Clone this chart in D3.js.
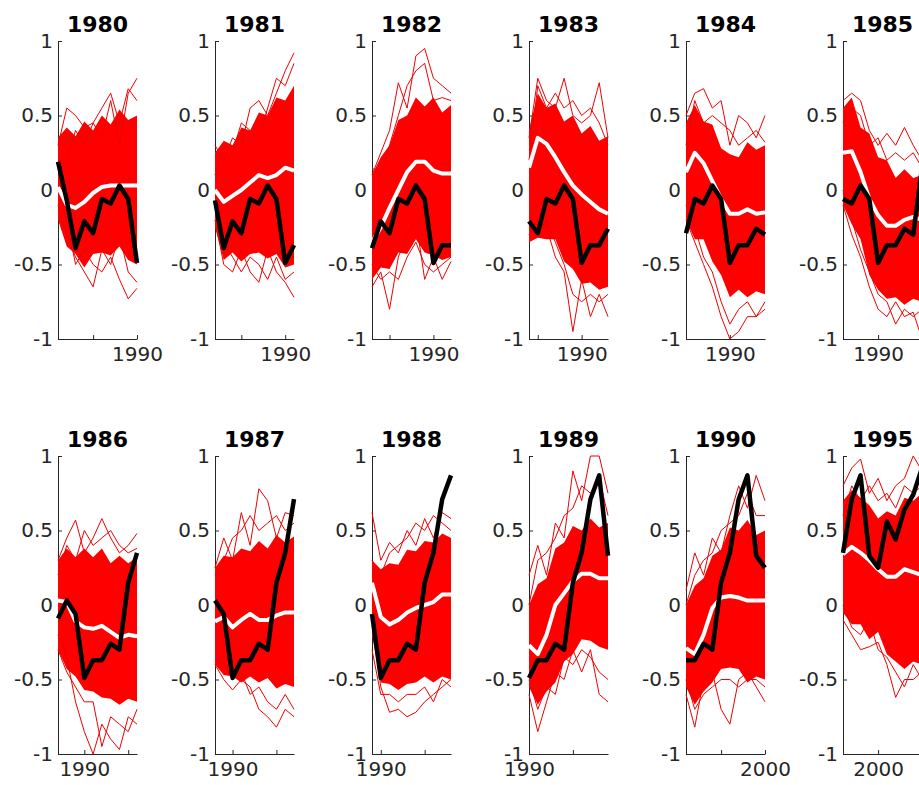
<!doctype html>
<html>
<head>
<meta charset="utf-8">
<script src="https://d3js.org/d3.v7.min.js"></script>
<style>
    body { margin: 0; background: #fff; }
    svg { display: block; font-family: "DejaVu Sans", sans-serif; }
</style>
</head>
<body>
<svg id="chart" width="919" height="785"></svg>
<script>
    // start year of each hindcast panel (panel covers start+1 .. start+10)
    const startYears = [1980, 1981, 1982, 1983, 1984, 1985, 1986, 1987, 1988, 1989, 1990, 1995];

    // observed series (black)
    const obsYears = [1981, 1982, 1983, 1984, 1985, 1986, 1987, 1988, 1989, 1990, 1991, 1992, 1993,
                      1994, 1995, 1996, 1997, 1998, 1999, 2000, 2001, 2002, 2003, 2004, 2005];
    const obsValues = [0.19, -0.07, -0.39, -0.21, -0.29, -0.06, -0.09, 0.03, -0.06, -0.49, -0.37, -0.37, -0.26,
                       -0.30, 0.15, 0.35, 0.71, 0.87, 0.33, 0.25, 0.56, 0.44, 0.64, 0.74, 0.92];

    // ensemble mean (white), one row per panel
    const ensMean = [
        [0.02, -0.10, -0.12, -0.08, -0.02, 0.02, 0.03, 0.03, 0.03, 0.03],
        [0.00, -0.08, -0.04, 0.00, 0.05, 0.10, 0.08, 0.10, 0.15, 0.13],
        [-0.35, -0.25, -0.12, 0.00, 0.12, 0.19, 0.19, 0.13, 0.11, 0.11],
        [0.15, 0.35, 0.31, 0.22, 0.12, 0.03, -0.03, -0.08, -0.13, -0.16],
        [0.12, 0.25, 0.18, 0.06, -0.06, -0.16, -0.16, -0.13, -0.16, -0.15],
        [0.25, 0.26, 0.12, -0.06, -0.17, -0.24, -0.24, -0.20, -0.18, -0.20],
        [0.03, 0.02, -0.11, -0.15, -0.16, -0.14, -0.18, -0.22, -0.20, -0.21],
        [-0.11, -0.08, -0.15, -0.10, -0.06, -0.10, -0.10, -0.07, -0.05, -0.05],
        [0.15, -0.08, -0.13, -0.10, -0.05, -0.02, 0.00, 0.02, 0.07, 0.07],
        [-0.27, -0.33, -0.20, 0.00, 0.08, 0.16, 0.21, 0.21, 0.18, 0.18],
        [-0.29, -0.33, -0.20, -0.02, 0.05, 0.06, 0.05, 0.03, 0.03, 0.03],
        [0.34, 0.39, 0.35, 0.30, 0.24, 0.19, 0.19, 0.24, 0.22, 0.20]
    ];

    // dense part of the ensemble spread (red band), ragged edges as seen
    const coreHi = [
        [0.35, 0.42, 0.36, 0.46, 0.40, 0.50, 0.44, 0.54, 0.47, 0.50],
        [0.25, 0.33, 0.30, 0.42, 0.40, 0.52, 0.50, 0.62, 0.60, 0.70],
        [0.10, 0.22, 0.30, 0.47, 0.50, 0.62, 0.56, 0.62, 0.52, 0.57],
        [0.40, 0.65, 0.55, 0.58, 0.46, 0.50, 0.38, 0.43, 0.33, 0.36],
        [0.45, 0.57, 0.46, 0.44, 0.28, 0.24, 0.22, 0.32, 0.27, 0.30],
        [0.55, 0.62, 0.42, 0.38, 0.22, 0.20, 0.08, 0.14, 0.08, 0.10],
        [0.30, 0.38, 0.32, 0.38, 0.32, 0.38, 0.28, 0.33, 0.28, 0.32],
        [0.25, 0.33, 0.32, 0.38, 0.36, 0.43, 0.38, 0.47, 0.42, 0.46],
        [0.30, 0.24, 0.28, 0.27, 0.37, 0.36, 0.43, 0.42, 0.48, 0.45],
        [0.00, 0.14, 0.18, 0.38, 0.42, 0.53, 0.50, 0.58, 0.52, 0.55],
        [0.00, 0.13, 0.18, 0.33, 0.37, 0.52, 0.50, 0.57, 0.47, 0.50],
        [0.70, 0.77, 0.72, 0.67, 0.58, 0.63, 0.60, 0.72, 0.70, 0.75]
    ];
    const coreLo = [
        [-0.20, -0.38, -0.43, -0.52, -0.43, -0.42, -0.44, -0.38, -0.47, -0.50],
        [-0.25, -0.47, -0.42, -0.48, -0.43, -0.42, -0.46, -0.43, -0.52, -0.50],
        [-0.60, -0.52, -0.53, -0.42, -0.43, -0.33, -0.42, -0.44, -0.47, -0.45],
        [-0.35, -0.32, -0.33, -0.33, -0.48, -0.53, -0.63, -0.62, -0.67, -0.65],
        [-0.20, -0.33, -0.33, -0.48, -0.57, -0.72, -0.67, -0.72, -0.68, -0.70],
        [-0.10, -0.23, -0.33, -0.57, -0.67, -0.73, -0.72, -0.77, -0.73, -0.75],
        [-0.30, -0.43, -0.48, -0.57, -0.58, -0.62, -0.63, -0.67, -0.63, -0.65],
        [-0.40, -0.47, -0.48, -0.52, -0.48, -0.52, -0.49, -0.56, -0.53, -0.55],
        [-0.20, -0.52, -0.53, -0.57, -0.53, -0.52, -0.48, -0.52, -0.48, -0.50],
        [-0.55, -0.67, -0.58, -0.52, -0.38, -0.33, -0.23, -0.24, -0.28, -0.30],
        [-0.55, -0.67, -0.58, -0.52, -0.43, -0.42, -0.43, -0.52, -0.48, -0.50],
        [-0.05, -0.13, -0.13, -0.23, -0.18, -0.33, -0.38, -0.43, -0.38, -0.40]
    ];

    // the visible outlying ensemble members (thin red lines), 4 per panel
    const members = [
        [[0.30, 0.55, 0.50, 0.42, 0.45, 0.35, 0.60, 0.30, 0.65, 0.75],
         [0.10, 0.20, 0.40, 0.30, 0.45, 0.55, 0.65, 0.45, 0.68, 0.60],
         [-0.10, -0.30, -0.45, -0.55, -0.65, -0.40, -0.50, -0.30, -0.55, -0.62],
         [0.00, -0.20, -0.50, -0.40, -0.50, -0.55, -0.45, -0.60, -0.73, -0.66]],
        [[0.30, 0.20, 0.35, 0.30, 0.55, 0.60, 0.50, 0.65, 0.80, 0.92],
         [0.10, 0.30, 0.25, 0.45, 0.40, 0.35, 0.55, 0.75, 0.70, 0.85],
         [-0.20, -0.50, -0.55, -0.40, -0.55, -0.62, -0.40, -0.55, -0.62, -0.72],
         [-0.10, -0.35, -0.45, -0.55, -0.45, -0.50, -0.60, -0.45, -0.60, -0.55]],
        [[0.10, 0.25, 0.40, 0.72, 0.55, 0.90, 0.95, 0.75, 0.70, 0.65],
         [0.15, 0.10, 0.30, 0.50, 0.70, 0.80, 0.85, 0.60, 0.62, 0.60],
         [-0.65, -0.55, -0.80, -0.45, -0.30, -0.20, -0.60, -0.45, -0.60, -0.48],
         [-0.50, -0.60, -0.55, -0.60, -0.45, -0.35, -0.50, -0.55, -0.50, -0.45]],
        [[0.35, 0.75, 0.60, 0.55, 0.75, 0.50, 0.45, 0.50, 0.72, 0.35],
         [0.20, 0.70, 0.55, 0.65, 0.55, 0.60, 0.50, 0.55, 0.45, 0.30],
         [-0.30, -0.20, -0.25, -0.45, -0.55, -0.95, -0.60, -0.85, -0.70, -0.85],
         [-0.25, -0.30, -0.20, -0.35, -0.50, -0.70, -0.75, -0.70, -0.75, -0.70]],
        [[0.50, 0.65, 0.68, 0.55, 0.60, 0.30, 0.50, 0.45, 0.35, 0.50],
         [0.30, 0.60, 0.45, 0.50, 0.45, 0.40, 0.30, 0.35, 0.40, 0.32],
         [-0.20, -0.35, -0.50, -0.65, -0.85, -1.00, -0.95, -0.85, -0.85, -0.80],
         [-0.10, -0.25, -0.45, -0.55, -0.75, -0.90, -0.80, -0.75, -0.85, -0.75]],
        [[0.60, 0.65, 0.60, 0.40, 0.30, 0.38, 0.30, 0.42, 0.30, 0.20],
         [0.45, 0.55, 0.50, 0.30, 0.35, 0.20, 0.25, 0.20, 0.25, 0.15],
         [-0.10, -0.30, -0.45, -0.65, -0.80, -0.85, -0.75, -0.85, -0.82, -1.00],
         [0.00, -0.20, -0.40, -0.55, -0.70, -0.75, -0.90, -0.80, -0.85, -0.80]],
        [[0.30, 0.45, 0.57, 0.35, 0.45, 0.58, 0.45, 0.35, 0.40, 0.48],
         [0.20, 0.40, 0.30, 0.50, 0.40, 0.45, 0.50, 0.40, 0.35, 0.38],
         [-0.20, -0.35, -0.65, -0.85, -1.00, -0.80, -0.90, -0.97, -0.75, -0.80],
         [-0.30, -0.45, -0.55, -0.65, -0.65, -0.95, -0.75, -0.80, -0.85, -0.70]],
        [[0.25, 0.45, 0.30, 0.62, 0.40, 0.78, 0.70, 0.45, 0.62, 0.60],
         [0.20, 0.30, 0.45, 0.50, 0.60, 0.50, 0.55, 0.60, 0.50, 0.55],
         [-0.40, -0.50, -0.57, -0.50, -0.55, -0.70, -0.75, -0.82, -0.70, -0.75],
         [-0.35, -0.40, -0.50, -0.45, -0.60, -0.55, -0.65, -0.70, -0.60, -0.70]],
        [[0.62, 0.30, 0.42, 0.35, 0.50, 0.40, 0.58, 0.45, 0.62, 0.58],
         [0.30, 0.20, 0.35, 0.40, 0.45, 0.55, 0.50, 0.60, 0.55, 0.50],
         [-0.10, -0.55, -0.72, -0.70, -0.75, -0.72, -0.65, -0.60, -0.55, -0.50],
         [-0.30, -0.60, -0.60, -0.65, -0.60, -0.60, -0.55, -0.65, -0.50, -0.55]],
        [[0.20, 0.40, 0.20, 0.55, 0.45, 0.90, 0.70, 1.00, 1.00, 0.75],
         [0.00, 0.30, 0.35, 0.45, 0.60, 0.65, 0.80, 0.75, 0.85, 0.60],
         [-0.60, -0.85, -0.65, -0.45, -0.50, -0.30, -0.45, -0.30, -0.60, -0.65],
         [-0.50, -0.70, -0.55, -0.60, -0.35, -0.40, -0.30, -0.35, -0.45, -0.50]],
        [[0.10, 0.35, 0.20, 0.45, 0.35, 0.60, 0.80, 0.65, 0.87, 0.70],
         [0.00, 0.20, 0.30, 0.35, 0.50, 0.55, 0.60, 0.75, 0.60, 0.60],
         [-0.60, -0.82, -0.50, -0.45, -0.70, -0.80, -0.50, -0.45, -0.55, -0.65],
         [-0.50, -0.70, -0.60, -0.55, -0.50, -0.50, -0.55, -0.50, -0.50, -0.55]],
        [[0.80, 0.92, 0.98, 0.75, 0.85, 0.70, 0.80, 0.85, 1.00, 0.90],
         [0.60, 0.80, 0.70, 0.80, 0.70, 0.75, 0.65, 0.80, 0.75, 0.80],
         [-0.10, -0.20, -0.30, -0.28, -0.25, -0.40, -0.62, -0.50, -0.50, -0.45],
         [0.00, -0.15, -0.20, -0.10, -0.30, -0.35, -0.45, -0.55, -0.40, -0.50]]
    ];

    const yTicks = [-1, -0.5, 0, 0.5, 1];

    const svg = d3.select('#chart');
    const plotW = 79, plotH = 298;
    const left0 = 58, colStep = 157;
    const rowTop = [41, 456];
    const axisColor = '#262626';

    startYears.forEach((sy, i) => {
        const row = Math.floor(i / 6), col = i % 6;
        const g = svg.append('g')
            .attr('transform', `translate(${left0 + col * colStep}, ${rowTop[row]})`);

        const x = d3.scaleLinear().domain([sy + 1, sy + 10]).range([0, plotW]);
        const y = d3.scaleLinear().domain([-1, 1]).range([plotH, 0]);

        const line = d3.line().x((d, k) => x(sy + 1 + k)).y(d => y(d));
        const band = d3.area()
            .x((d, k) => x(sy + 1 + k))
            .y0((d, k) => y(coreLo[i][k]))
            .y1((d, k) => y(coreHi[i][k]));

        // axes first, data on top
        const yAxis = g.append('g')
            .call(d3.axisLeft(y).tickValues(yTicks).tickSize(-4).tickSizeOuter(0)
                .tickPadding(5).tickFormat(d => String(d)));
        const xt = [];
        for (let yr = sy + 1; yr <= sy + 10; yr++) if (yr % 5 == 0) xt.push(yr);
        const xAxis = g.append('g')
            .attr('transform', `translate(0, ${plotH})`)
            .call(d3.axisBottom(x).tickValues(xt).tickSize(-4).tickSizeOuter(0)
                .tickPadding(8).tickFormat(d => d % 10 == 0 ? d : ''));
        [yAxis, xAxis].forEach(a => {
            a.select('.domain').attr('stroke', axisColor);
            a.selectAll('.tick line').attr('stroke', axisColor);
            a.selectAll('.tick text').attr('fill', axisColor)
                .style('font-size', '20px').style('font-family', '"DejaVu Sans", sans-serif');
        });

        g.append('path')
            .attr('d', band(coreHi[i]))
            .attr('fill', '#ff0000');

        members[i].forEach(m => {
            g.append('path')
                .attr('d', line(m))
                .attr('fill', 'none')
                .attr('stroke', '#ee0000')
                .attr('stroke-width', 1);
        });

        g.append('path')
            .attr('d', line(ensMean[i]))
            .attr('fill', 'none')
            .attr('stroke', '#ffffff')
            .attr('stroke-width', 4)
            .attr('stroke-linejoin', 'round');

        const obs = obsYears.map((yr, k) => ({yr: yr, v: obsValues[k]}))
            .filter(d => d.yr > sy && d.yr <= sy + 10);
        g.append('path')
            .attr('d', d3.line().x(d => x(d.yr)).y(d => y(d.v))(obs))
            .attr('fill', 'none')
            .attr('stroke', '#000000')
            .attr('stroke-width', 4.5)
            .attr('stroke-linejoin', 'round');

        g.append('text')
            .attr('x', plotW / 2)
            .attr('y', -9)
            .attr('text-anchor', 'middle')
            .style('font-size', '22px')
            .style('font-weight', 'bold')
            .attr('fill', '#000')
            .text(sy);
    });
</script>
</body>
</html>
